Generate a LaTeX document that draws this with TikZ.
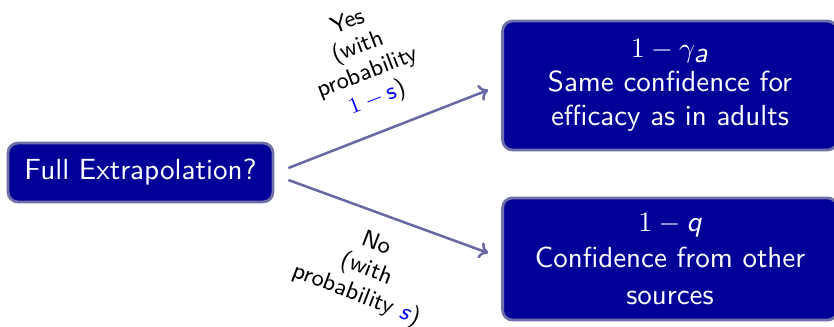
\documentclass[tikz,border=0pt]{standalone}
\usetikzlibrary{arrows.meta}
\definecolor{boxfill}{RGB}{0,0,153}
\definecolor{boxline}{RGB}{112,112,168}
\definecolor{arrowc}{RGB}{104,104,164}
\begin{document}
\begin{tikzpicture}[x=0.357pt,y=-0.357pt,
  every node/.style={font=\sffamily},
  box/.style={draw=boxline,fill=boxfill,text=white,line width=1pt,rounded corners=3.5pt,align=center,inner sep=0pt},
  conn/.style={draw=arrowc,line width=0.9pt,-{To[length=3.2pt,width=6pt]}},
  lbl/.style={align=center,font=\sffamily\fontsize{8.5}{9.7}\selectfont,inner sep=0pt}]
\useasboundingbox (0,0) rectangle (834,327);
\node[box,minimum width=94.6pt,minimum height=21pt,font=\sffamily\fontsize{10.4}{12}\selectfont] (L) at (140.5,172.5) {Full Extrapolation?};
\node[box,minimum width=119.5pt,minimum height=46pt,font=\sffamily\fontsize{10.35}{12}\selectfont] (T) at (670,85.5)
  {$1-\gamma_{\textit{a}}$\\Same confidence for\\efficacy as in adults};
\node[box,minimum width=119.5pt,minimum height=43.6pt,font=\sffamily\fontsize{10.35}{12.9}\selectfont] (B) at (670,259)
  {$1-\textit{q}$\\Confidence from other\\sources};
\draw[conn] ([shift={(14,-4.5)}]L.east) -- ([shift={(-13,4.5)}]T.west);
\draw[conn] ([shift={(14,7.5)}]L.east) -- ([shift={(-13,-6)}]B.west);
\node[lbl,rotate=21] (ly) at (363,61) {Yes\\(with\\probability\\\textcolor{blue}{$1-\textup{s}$})};
\node[lbl,rotate=-21] (ln) at (366,270) {No\\(with\\probability \textcolor{blue}{\textit{s}})};
\end{tikzpicture}
\end{document}
